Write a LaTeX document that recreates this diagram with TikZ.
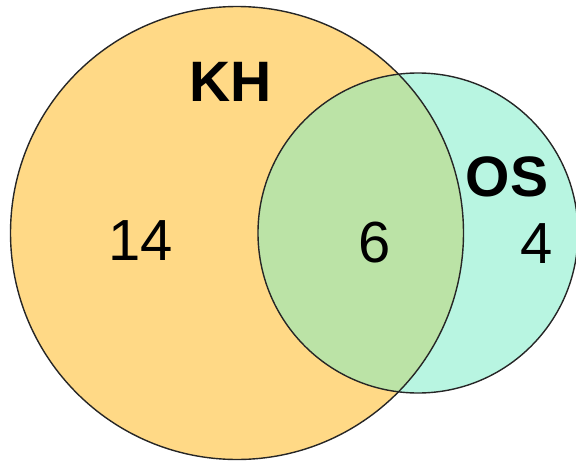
\documentclass[tikz,border=0pt]{standalone}
\usepackage{fontspec}
\setmainfont{Liberation Sans}
\definecolor{khfill}{RGB}{255,217,134}
\definecolor{osfill}{RGB}{184,245,225}
\definecolor{bothfill}{RGB}{187,227,166}
\begin{document}
\begin{tikzpicture}[x=1pt,y=-1pt,
  outline/.style={draw=black!85,line width=1.4pt},
  setlabel/.style={inner sep=0pt,font=\fontsize{57}{57}\selectfont\bfseries},
  countlabel/.style={inner sep=0pt,font=\fontsize{58}{58}\selectfont}]
\useasboundingbox (0,0) rectangle (576,463);
\fill[khfill] (237,233) circle (226.5);
\fill[osfill] (418,233) circle (160);
\begin{scope}
  \clip (237,233) circle (226.5);
  \fill[bothfill] (418,233) circle (160);
\end{scope}
\draw[outline] (237,233) circle (226.5);
\draw[outline] (418,233) circle (160);
\node[setlabel] (kh) at (231,82) {KH};
\node[setlabel] (os) at (507,177) {OS};
\node[countlabel] (n14) at (141,241) {14};
\node[countlabel] (n6) at (375,243) {6};
\node[countlabel] (n4) at (537,244) {4};
\end{tikzpicture}
\end{document}
